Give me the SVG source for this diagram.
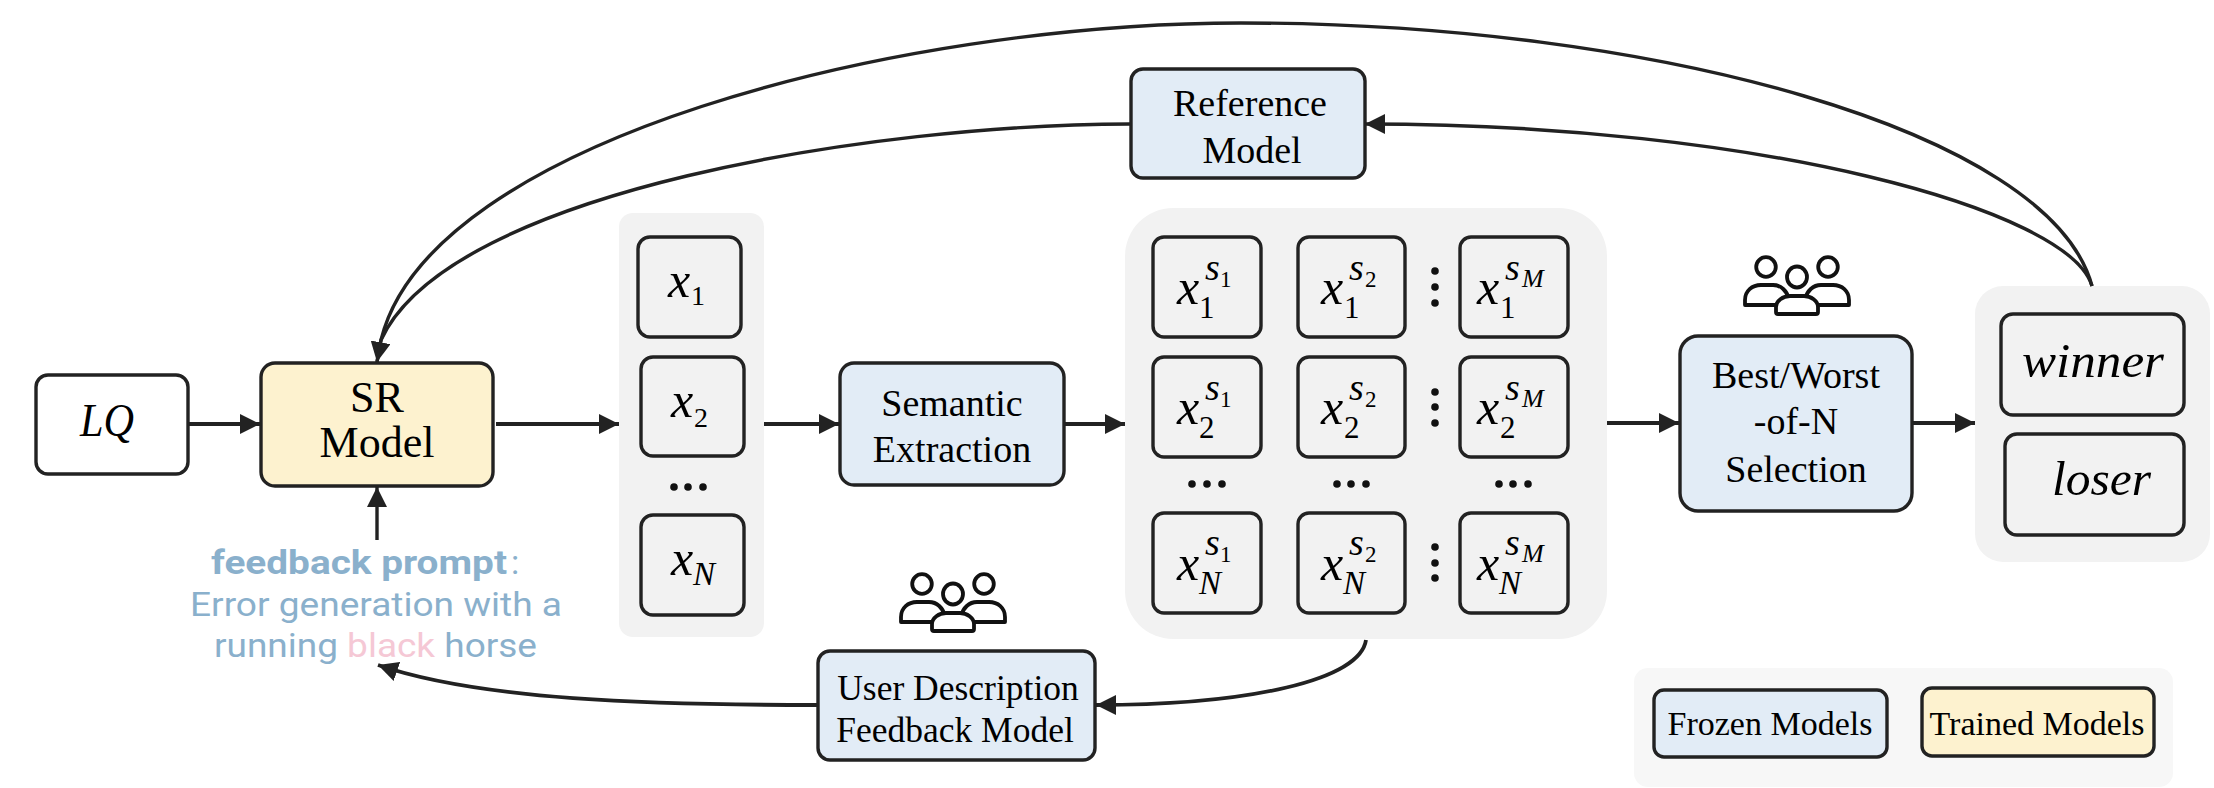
<svg xmlns="http://www.w3.org/2000/svg" width="2214" height="788" viewBox="0 0 2214 788">
<style>
text{font-family:"Liberation Serif","Times New Roman",serif;fill:#000}
.t{text-anchor:middle}
.s44{font-size:44px}.s38{font-size:38px}.s36{font-size:35.5px}.s34{font-size:34px}
.b{stroke:#222;stroke-width:3.4}
.w{fill:#fff}.g{fill:#f2f2f2}.blue{fill:#e2ecf6}.yel{fill:#fdf2cf}
.i{font-style:italic}
.x{font-size:50px;font-style:italic}
.sub{font-size:31px}
.subl{font-size:28px}
.subi{font-size:33px;font-style:italic}
.sup{font-size:38px;font-style:italic}
.ss{font-size:23px}
.ssi{font-size:26px;font-style:italic}
.dot{fill:#111}
.p{font-family:Roboto,"Noto Sans",sans-serif;font-size:34px;fill:#8ab0cc}
.con{fill:none;stroke:#222;stroke-width:3.8}
.thin{stroke-width:3.4}
.u{fill:#fff;stroke:#111;stroke-width:3.8;stroke-linejoin:round}
</style>
<defs>
<marker id="ah" viewBox="0 0 20 20" refX="20" refY="10" markerWidth="20" markerHeight="20" markerUnits="userSpaceOnUse" orient="auto"><path d="M0 0L20 10L0 20z" fill="#222"/></marker>
<g id="users">
<path class="u" d="M4 50H2V45C2 36 9 30 18 30H30C38 30 44 36 46 44V50z"/>
<path class="u" d="M62 50V44C64 36 70 30 78 30H90C99 30 106 36 106 45V50z"/>
<circle class="u" cx="23" cy="12" r="9.8"/>
<circle class="u" cx="85" cy="12" r="9.8"/>
<ellipse class="u" cx="54" cy="22" rx="10" ry="10.5"/>
<path class="u" d="M35 59Q33 59 33 57V52C33 46 40 41 47 41H61C68 41 75 46 75 52V57Q75 59 73 59z"/>
</g>
</defs>
<rect width="2214" height="788" fill="#fff"/>
<g id="group-samples"><rect x="619" y="213" width="145" height="424" rx="14" class="g"/></g>
<g id="group-semantic"><rect x="1125" y="208" width="482" height="431" rx="48" class="g"/></g>
<g id="group-outcome"><rect x="1975" y="286" width="235" height="276" rx="28" class="g"/></g>
<g id="group-legend"><rect x="1634" y="668" width="539" height="119" rx="14" fill="#f7f7f7"/></g>
<g id="connectors">
<path class="con" d="M189 424H260" marker-end="url(#ah)"/>
<path class="con" d="M496 424H619" marker-end="url(#ah)"/>
<path class="con" d="M764 424H839" marker-end="url(#ah)"/>
<path class="con" d="M1065 424H1125" marker-end="url(#ah)"/>
<path class="con" d="M1607 423H1679" marker-end="url(#ah)"/>
<path class="con" d="M1913 423H1975" marker-end="url(#ah)"/>
<path class="con thin" d="M377 540V487" marker-end="url(#ah)"/>
<path class="con thin" d="M2092 286C2050 130 1650 23 1241 23C900 23 430 140 381 340L377 362" marker-end="url(#ah)"/>
<path class="con thin" d="M2092 286C2070 210 1760 124 1365 124" marker-end="url(#ah)"/>
<path class="con thin" d="M1130 124C880 124 450 190 381 340L377 362"/>
<path class="con" d="M817 705C650 705 480 700 378 665" marker-end="url(#ah)"/>
<path class="con" d="M1366 640C1360 680 1250 705 1096 705" marker-end="url(#ah)"/>
</g>
<g id="lq"><rect x="36" y="375" width="152" height="99" rx="12" class="b w"/><text class="i" x="80" y="436" font-size="46" textLength="54" lengthAdjust="spacingAndGlyphs">LQ</text></g>
<g id="sr-model"><rect x="261" y="363" width="232" height="123" rx="14" class="b yel"/><text class="t s44" x="377" y="412">SR</text><text class="t s44" x="377" y="457">Model</text></g>
<g id="reference-model"><rect x="1131" y="69" width="234" height="109" rx="12" class="b blue"/><text class="t s38" x="1250" y="116">Reference</text><text class="t s38" x="1252" y="163">Model</text></g>
<g id="semantic-extraction"><rect x="840" y="363" width="224" height="122" rx="14" class="b blue"/><text class="t s38" x="952" y="416">Semantic</text><text class="t s38" x="952" y="462">Extraction</text></g>
<g id="best-worst"><rect x="1680" y="336" width="232" height="175" rx="18" class="b blue"/><text class="t s38" x="1796" y="388">Best/Worst</text><text class="t s38" x="1796" y="434">-of-N</text><text class="t s38" x="1796" y="482">Selection</text></g>
<g id="user-description"><rect x="818" y="651" width="277" height="109" rx="12" class="b blue"/><text class="t s36" x="958" y="700">User Description</text><text class="t s36" x="955" y="742">Feedback Model</text></g>
<g id="legend-frozen"><rect x="1654" y="690" width="233" height="67" rx="10" class="b blue"/><text class="t s34" x="1770" y="735">Frozen Models</text></g>
<g id="legend-trained"><rect x="1922" y="688" width="232" height="68" rx="10" class="b yel"/><text class="t s34" x="2037" y="735">Trained Models</text></g>
<g id="users-top"><use href="#users" x="1743" y="255"/></g>
<g id="users-bottom"><use href="#users" x="899" y="572"/></g>
<g id="winner"><rect x="2001" y="314" width="183" height="101" rx="12" class="b g"/><text class="i" x="2022" y="377" font-size="48" textLength="142" lengthAdjust="spacingAndGlyphs">winner</text></g>
<g id="loser"><rect x="2005" y="434" width="179" height="101" rx="12" class="b g"/><text class="i" x="2052" y="495" font-size="48" textLength="99" lengthAdjust="spacingAndGlyphs">loser</text></g>
<g id="x1"><rect x="638" y="237" width="103" height="100" rx="12" class="b g"/><text class="x" x="668" y="297">x</text><text class="subl" x="691" y="305">1</text></g>
<g id="x2"><rect x="641" y="357" width="103" height="99" rx="12" class="b g"/><text class="x" x="671" y="417">x</text><text class="subl" x="694" y="427">2</text></g>
<g id="xN"><rect x="641" y="515" width="103" height="100" rx="12" class="b g"/><text class="x" x="671" y="575">x</text><text class="subi" x="693" y="585">N</text></g>
<g id="x-dots" class="dot"><circle cx="674" cy="487" r="3.8"/><circle cx="688" cy="487" r="3.8"/><circle cx="703" cy="487" r="3.8"/></g>
<g id="x1s1"><rect x="1153" y="237" width="108" height="100" rx="11" class="b g"/><text class="x" x="1177" y="304">x</text><text class="sub" x="1199" y="318">1</text><text class="sup" x="1205" y="280">s</text><text class="ss" x="1220" y="287">1</text></g>
<g id="x1s2"><rect x="1298" y="237" width="107" height="100" rx="11" class="b g"/><text class="x" x="1321" y="304">x</text><text class="sub" x="1344" y="318">1</text><text class="sup" x="1349" y="280">s</text><text class="ss" x="1365" y="287">2</text></g>
<g id="x1sM"><rect x="1460" y="237" width="108" height="100" rx="11" class="b g"/><text class="x" x="1477" y="304">x</text><text class="sub" x="1500" y="318">1</text><text class="sup" x="1505" y="280">s</text><text class="ssi" x="1522" y="287">M</text></g>
<g id="x2s1"><rect x="1153" y="357" width="108" height="100" rx="11" class="b g"/><text class="x" x="1177" y="424">x</text><text class="sub" x="1199" y="438">2</text><text class="sup" x="1205" y="400">s</text><text class="ss" x="1220" y="407">1</text></g>
<g id="x2s2"><rect x="1298" y="357" width="107" height="100" rx="11" class="b g"/><text class="x" x="1321" y="424">x</text><text class="sub" x="1344" y="438">2</text><text class="sup" x="1349" y="400">s</text><text class="ss" x="1365" y="407">2</text></g>
<g id="x2sM"><rect x="1460" y="357" width="108" height="100" rx="11" class="b g"/><text class="x" x="1477" y="424">x</text><text class="sub" x="1500" y="438">2</text><text class="sup" x="1505" y="400">s</text><text class="ssi" x="1522" y="407">M</text></g>
<g id="xNs1"><rect x="1153" y="513" width="108" height="100" rx="11" class="b g"/><text class="x" x="1177" y="580">x</text><text class="subi" x="1199" y="594">N</text><text class="sup" x="1205" y="555">s</text><text class="ss" x="1220" y="562">1</text></g>
<g id="xNs2"><rect x="1298" y="513" width="107" height="100" rx="11" class="b g"/><text class="x" x="1321" y="580">x</text><text class="subi" x="1343" y="594">N</text><text class="sup" x="1349" y="555">s</text><text class="ss" x="1365" y="562">2</text></g>
<g id="xNsM"><rect x="1460" y="513" width="108" height="100" rx="11" class="b g"/><text class="x" x="1477" y="580">x</text><text class="subi" x="1499" y="594">N</text><text class="sup" x="1505" y="555">s</text><text class="ssi" x="1522" y="562">M</text></g>
<g id="grid-dots" class="dot">
<circle cx="1192" cy="484" r="3.8"/><circle cx="1207" cy="484" r="3.8"/><circle cx="1222" cy="484" r="3.8"/>
<circle cx="1337" cy="484" r="3.8"/><circle cx="1351" cy="484" r="3.8"/><circle cx="1366" cy="484" r="3.8"/>
<circle cx="1499" cy="484" r="3.8"/><circle cx="1513" cy="484" r="3.8"/><circle cx="1528" cy="484" r="3.8"/>
<circle cx="1435" cy="271" r="3.8"/><circle cx="1435" cy="287" r="3.8"/><circle cx="1435" cy="303" r="3.8"/>
<circle cx="1435" cy="392" r="3.8"/><circle cx="1435" cy="407" r="3.8"/><circle cx="1435" cy="423" r="3.8"/>
<circle cx="1435" cy="547" r="3.8"/><circle cx="1435" cy="563" r="3.8"/><circle cx="1435" cy="578" r="3.8"/>
</g>
<g id="feedback-prompt">
<text class="p" x="211" y="574" font-weight="700" textLength="296" lengthAdjust="spacingAndGlyphs">feedback prompt</text><text class="p" x="511" y="574">:</text>
<text class="p" x="190" y="616" textLength="372" lengthAdjust="spacingAndGlyphs">Error generation with a</text>
<text class="p" x="214" y="657" textLength="323" lengthAdjust="spacingAndGlyphs">running <tspan fill="#f5c8d5">black</tspan> horse</text>
</g>
</svg>
